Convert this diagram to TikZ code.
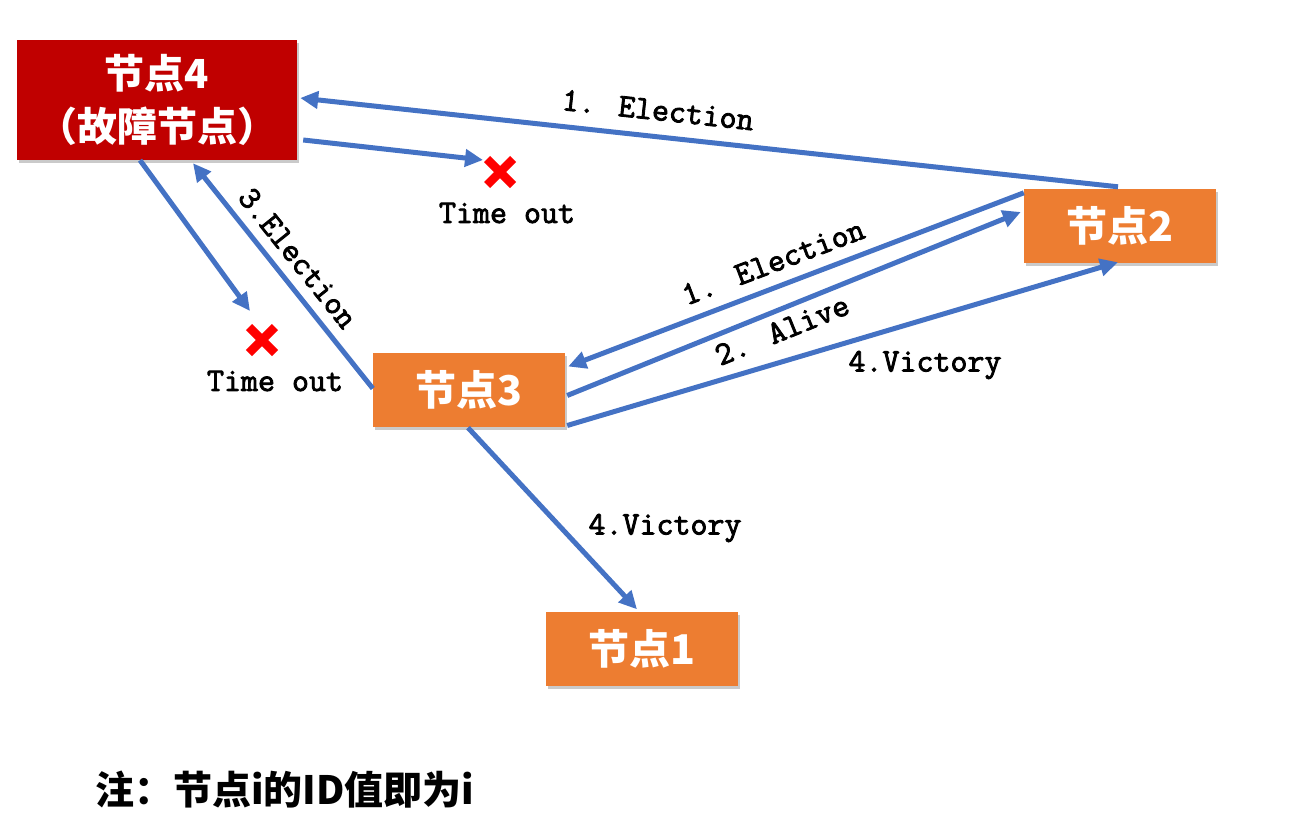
\documentclass[tikz,border=0pt]{standalone}
\usepackage{fontspec}
\usetikzlibrary{arrows.meta,shadows}
\newfontfamily\cjk{Noto Sans CJK SC}
\newfontfamily\labfont{Latin Modern Mono}[FakeBold=2.5]
\definecolor{myblue}{HTML}{4472C4}
\definecolor{myorange}{HTML}{ED7D31}
\definecolor{myred}{HTML}{C00000}
\tikzset{
  box/.style={fill=myorange, draw=none, minimum width=192pt, minimum height=74pt,
    inner sep=0pt, text=white, font=\cjk\bfseries\fontsize{41}{44}\selectfont,
    drop shadow={shadow xshift=2pt, shadow yshift=-3pt, opacity=0.35, fill=black!60}},
  conn/.style={draw=myblue, line width=5pt, -{Triangle[length=18pt,width=17pt]}},
  lab/.style={font=\labfont\fontsize{33}{36}\selectfont, inner sep=0pt},
  xmark/.style={draw=red, line width=8.5pt},
}
\begin{document}
\begin{tikzpicture}[x=1pt,y=-1pt]
\useasboundingbox (0,0) rectangle (1289,835);
% nodes
\node[box, fill=myred, minimum width=280pt, minimum height=120pt, align=center,
  font=\cjk\bfseries\fontsize{40}{53}\selectfont] (n4) at (157,100) {节点4\\（故障节点）};
\node[box] (n2) at (1120,226) {节点2};
\node[box] (n3) at (469,389.5) {节点3};
\node[box] (n1) at (642,648.5) {节点1};
% timeout targets
\coordinate (t1) at (483,160);
\coordinate (t2) at (250,311);
\coordinate (x1) at (500,172);
\coordinate (x2) at (262,340);
\draw[xmark] ([shift={(-13,-13)}]x1) -- ([shift={(13,13)}]x1);
\draw[xmark] ([shift={(-13,13)}]x1) -- ([shift={(13,-13)}]x1);
\draw[xmark] ([shift={(-13,-13)}]x2) -- ([shift={(13,13)}]x2);
\draw[xmark] ([shift={(-13,13)}]x2) -- ([shift={(13,-13)}]x2);
\node[lab] (to1) at (507,213) {Time out};
\node[lab] (to2) at (275,381) {Time out};
% connectors
\draw[conn] ([shift={(-2,-2)}]n2.north) -- ([shift={(3,-2)}]n4.east);
\draw[conn] ([shift={(6,40)}]n4.east) -- (t1);
\draw[conn] ([shift={(-17,0)}]n4.south) -- (t2);
\draw[conn] ([shift={(0,-1)}]n3.west) -- ([shift={(36,3)}]n4.south);
\draw[conn] ([shift={(0,4)}]n2.north west) -- ([shift={(3,-23)}]n3.east);
\draw[conn] ([shift={(2,6)}]n3.east) -- ([shift={(-3,-14)}]n2.west);
\draw[conn] ([shift={(2,36)}]n3.east) -- ([shift={(-2,-1)}]n2.south);
\draw[conn] ([shift={(-1,1)}]n3.south) -- ([shift={(-5,-2)}]n1.north);
% labels
\node[lab, rotate=-6.1] (l1) at (658,110) {1. Election};
\node[lab, rotate=-51.3] (l3) at (298,258) {3.Election};
\node[lab, rotate=20.8] (l1b) at (773,262) {1. Election};
\node[lab, rotate=22.1] (l2) at (782,330) {2. Alive};
\node[lab] (l4a) at (925,365) {4.Victory};
\node[lab] (l4b) at (665,528) {4.Victory};
% note
\node[anchor=west, inner sep=0pt, font=\cjk\bfseries\fontsize{39}{42}\selectfont] (note) at (95,790) {注：节点i的ID值即为i};
\end{tikzpicture}
\end{document}
